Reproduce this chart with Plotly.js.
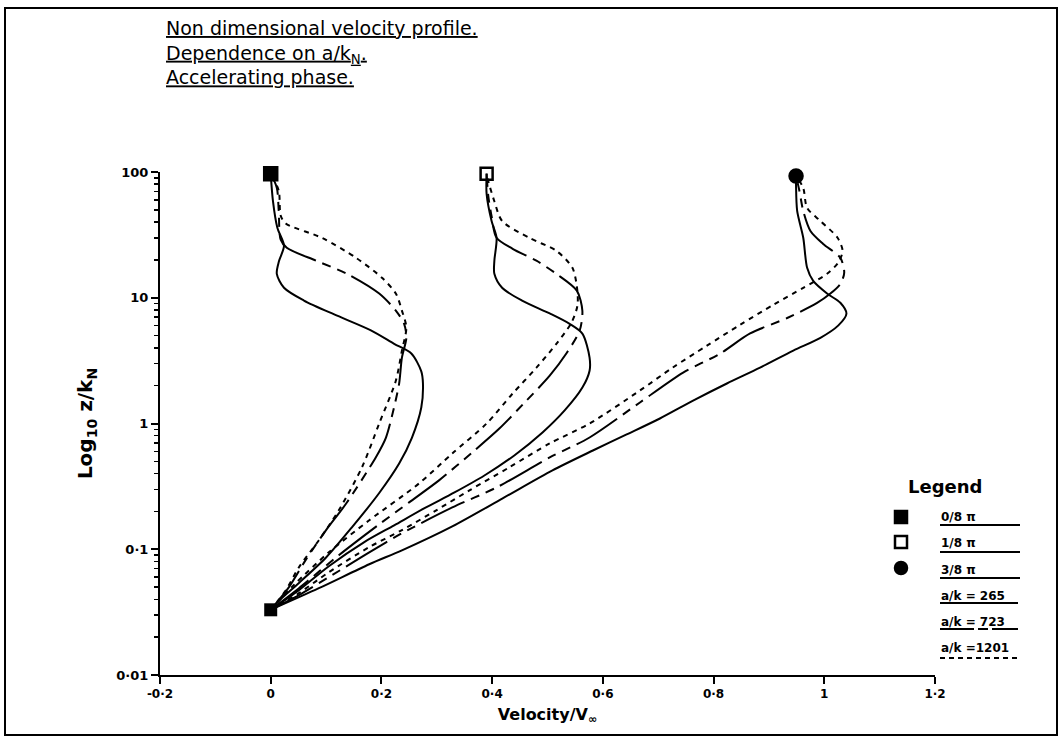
<!DOCTYPE html>
<html>
<head>
<meta charset="utf-8">
<script src="https://cdn.plot.ly/plotly-3.0.1.min.js"></script>
<style>html,body{margin:0;padding:0;background:#fff;}#chart{width:1063px;height:755px;}</style>
</head>
<body>
<div id="chart"></div>
<script>
// ---- data ----
const phases = ['0/8 π', '1/8 π', '3/8 π'];
const ratios = [265, 723, 1201];

// phase 0/8 pi
const zS0 = [0.033,0.039,0.054,0.086,0.15,0.28,0.48,0.77,1.34,2.08,2.6,3.6,4.3,5.5,7.2,9.5,12,15.5,19.6,25.9,36,59,97];
const vS0 = [0,0.015,0.051,0.100,0.147,0.196,0.232,0.255,0.272,0.275,0.272,0.254,0.223,0.181,0.120,0.060,0.024,0.011,0.015,0.024,0.012,0.004,0];
const zD0 = [0.033,0.05,0.082,0.142,0.23,0.54,0.77,1.3,2.08,3.34,4.8,6.2,7.9,10.8,15.5,19.7,25,29,49,75,97];
const vD0 = [0,0.033,0.063,0.100,0.136,0.190,0.208,0.222,0.232,0.237,0.245,0.241,0.226,0.196,0.138,0.082,0.029,0.018,0.0145,0.011,0];
const zT0 = [0.033,0.047,0.072,0.118,0.204,0.45,1.0,2.19,3.8,5.8,7.9,10.8,14.4,20.8,30,39,45,71,97];
const vT0 = [0,0.027,0.051,0.087,0.123,0.165,0.196,0.226,0.237,0.245,0.237,0.226,0.201,0.154,0.092,0.027,0.018,0.0145,0];

// phase 1/8 pi
const zS1 = [0.033,0.0473,0.0733,0.114,0.155,0.211,0.283,0.386,0.557,0.848,1.27,1.93,2.63,3.34,5.18,6.2,7.5,9.45,12,15.5,19.7,30,40.8,67,97];
const vS1 = [0,0.051,0.105,0.169,0.223,0.277,0.332,0.386,0.440,0.491,0.531,0.563,0.576,0.576,0.563,0.540,0.504,0.455,0.418,0.404,0.404,0.408,0.399,0.390,0.390];
const zD1 = [0.033,0.049,0.0896,0.158,0.236,0.353,0.589,0.912,1.52,2.4,3.6,5.47,7.88,11.4,15.5,19.7,24.5,30,44.6,64.5,97];
const vD1 = [0,0.051,0.123,0.196,0.250,0.304,0.364,0.413,0.462,0.504,0.534,0.558,0.563,0.553,0.516,0.480,0.437,0.408,0.399,0.393,0.390];
const zT1 = [0.033,0.052,0.0946,0.17,0.334,0.578,1.0,1.73,2.78,4.3,6.3,8.6,11.3,17.3,23.6,30,40.8,58.5,84.5,97];
const vT1 = [0,0.042,0.105,0.178,0.268,0.328,0.390,0.437,0.480,0.516,0.543,0.554,0.554,0.545,0.516,0.467,0.418,0.404,0.393,0.390];

// phase 3/8 pi
const zS3 = [0.033,0.049,0.076,0.098,0.152,0.254,0.424,0.61,0.818,1.096,1.52,2.08,2.78,3.8,4.8,6.0,7.47,9.12,10.8,13.6,17.3,30,49,77.5,93];
const vS3 = [0,0.087,0.178,0.237,0.328,0.419,0.509,0.582,0.643,0.703,0.763,0.824,0.884,0.944,0.993,1.025,1.040,1.029,1.005,0.980,0.969,0.962,0.951,0.949,0.949];
const zD3 = [0.033,0.0432,0.06,0.0946,0.134,0.215,0.31,0.537,0.774,1.47,2.54,3.6,5.2,6.9,9.1,10.8,12.9,15.8,20.8,26.8,34,49,71,93];
const vD3 = [0,0.051,0.105,0.178,0.237,0.328,0.408,0.504,0.576,0.667,0.745,0.812,0.866,0.933,0.987,1.011,1.029,1.036,1.029,0.998,0.975,0.962,0.955,0.949];
const zT3 = [0.033,0.0448,0.0657,0.104,0.142,0.204,0.294,0.448,0.694,1.0,1.83,2.78,4.16,6.1,8.8,12,15.5,19,23.6,30,40.8,51.8,74.6,93];
const vT3 = [0,0.051,0.105,0.178,0.237,0.299,0.359,0.431,0.504,0.576,0.667,0.726,0.788,0.848,0.908,0.962,1.005,1.025,1.033,1.024,0.993,0.969,0.962,0.949];

// markers: top of each phase group, and common starting point
const markerV = [0, 0.39, 0.949];
const markerZ = [97, 97, 93];
const startV = [0];
const startZ = [0.033];

// tick labels
const xTickVals = [-0.2, 0, 0.2, 0.4, 0.6, 0.8, 1, 1.2];
const xTickText = ['-0·2', '0', '0·2', '0·4', '0·6', '0·8', '1', '1·2'];
const yTickVals = [0.01, 0.1, 1, 10, 100];
const yTickText = ['0·01', '0·1', '1', '10', '100'];

// ---- styles ----
const dashFor = {265: 'solid', 723: '48px,7px,9px,7px,9px,7px', 1201: '5px,5px'};
const INK = '#000';
const FONT = 'DejaVu Sans, sans-serif';

const series = [
  [vS0, zS0, 0, 265], [vD0, zD0, 0, 723], [vT0, zT0, 0, 1201],
  [vS1, zS1, 1, 265], [vD1, zD1, 1, 723], [vT1, zT1, 1, 1201],
  [vS3, zS3, 2, 265], [vD3, zD3, 2, 723], [vT3, zT3, 2, 1201]
];

const traces = series.map(([v, z, p, r]) => ({
  x: v, y: z, type: 'scatter', mode: 'lines',
  name: phases[p] + ', a/k = ' + r,
  line: {color: INK, width: 2, dash: dashFor[r], shape: 'spline', smoothing: 0.8},
  hoverinfo: 'skip', showlegend: false
}));

traces.push({
  x: markerV, y: markerZ, type: 'scatter', mode: 'markers', cliponaxis: false,
  marker: {symbol: ['square', 'square-open', 'circle'], size: [13, 12, 13], opacity: 1, color: INK, line: {color: INK, width: 2.5}},
  showlegend: false, hoverinfo: 'skip'
});
traces.push({
  x: startV, y: startZ, type: 'scatter', mode: 'markers', cliponaxis: false,
  marker: {symbol: 'square', size: 13, opacity: 1, color: INK},
  showlegend: false, hoverinfo: 'skip'
});

// minor ticks on the log axis (2..9 in each decade)
const minorVals = [];
for (let e = -2; e < 2; e++) for (let m = 2; m <= 9; m++) minorVals.push(m * Math.pow(10, e));

// ---- layout helpers (positions in paper units) ----
const W = 1063, H = 755, ML = 160, MR = 128, MT = 172, MB = 80;
const PW = W - ML - MR, PH = H - MT - MB;
const px = X => (X - ML) / PW;
const py = Y => (H - MB - Y) / PH;

const annotations = [];
const shapes = [];
const titleLines = ['Non dimensional velocity profile.', 'Dependence on a/k<sub>N</sub>.', 'Accelerating phase.'];
annotations.push({
  xref: 'paper', yref: 'paper', x: px(164), y: py(52), xanchor: 'left', yanchor: 'middle', align: 'left',
  text: titleLines.map(t => '<u>' + t + '</u>').join('<br>'), showarrow: false,
  font: {family: FONT, size: 19, color: INK}
});

annotations.push({
  xref: 'paper', yref: 'paper', x: px(945), y: py(486), xanchor: 'center', yanchor: 'middle',
  text: 'Legend', showarrow: false, font: {family: FONT, size: 18, color: INK, weight: 'bold'}
});

const legendText = phases.concat(['a/k = ' + ratios[0], 'a/k = ' + ratios[1], 'a/k =' + ratios[2]]);
const legendTextY = [517, 543, 570, 596, 622, 648];
const legendLineY = [525, 552, 578, 603, 629, 658];
const legendDash = ['solid', 'solid', 'solid', 'solid', '34px,4px,10px,4px', '5px,4px'];
const legendLineEnd = [1020, 1020, 1020, 1018, 1018, 1020];
legendText.forEach((t, i) => {
  annotations.push({
    xref: 'paper', yref: 'paper', x: px(939), y: py(legendTextY[i]), xanchor: 'left', yanchor: 'middle',
    text: t, showarrow: false, font: {family: FONT, size: 12, color: INK, weight: 'bold'}
  });
  shapes.push({
    type: 'line', xref: 'paper', yref: 'paper', x0: px(940), x1: px(legendLineEnd[i]),
    y0: py(legendLineY[i]), y1: py(legendLineY[i]), line: {color: INK, width: 2, dash: legendDash[i]}
  });
});

// legend symbols
const symY = [517, 542, 568];
const symKind = ['rect', 'rect', 'circle'];
symY.forEach((Y, i) => shapes.push({
  type: symKind[i], xref: 'paper', yref: 'paper', xsizemode: 'pixel', ysizemode: 'pixel',
  xanchor: px(901), yanchor: py(Y), x0: -6, x1: 6, y0: -6, y1: 6,
  fillcolor: i === 1 ? 'rgba(0,0,0,0)' : INK, line: {color: INK, width: 2.5}
}));

// page border
shapes.push({
  type: 'rect', xref: 'paper', yref: 'paper', x0: px(5), x1: px(1057), y0: py(735), y1: py(8),
  line: {color: INK, width: 2}, layer: 'below'
});

const layout = {
  width: W, height: H,
  margin: {l: ML, r: MR, t: MT, b: MB, pad: 0},
  paper_bgcolor: '#fff', plot_bgcolor: '#fff',
  showlegend: false,
  font: {family: FONT, color: INK},
  xaxis: {
    range: [-0.2, 1.2], tickmode: 'array', tickvals: xTickVals, ticktext: xTickText,
    ticks: 'outside', ticklen: 7, tickwidth: 2, tickcolor: INK,
    showline: true, linewidth: 2, linecolor: INK, showgrid: false, zeroline: false,
    tickfont: {family: FONT, size: 12, weight: 'bold', color: INK},
    title: {text: 'Velocity/V<sub>∞</sub>', font: {family: FONT, size: 16, weight: 'bold', color: INK}, standoff: 8},
    automargin: false
  },
  yaxis: {
    type: 'log', range: [-2, 2], tickmode: 'array', tickvals: yTickVals, ticktext: yTickText,
    ticks: 'outside', ticklen: 7, tickwidth: 2, tickcolor: INK,
    minor: {tickmode: 'array', tickvals: minorVals, ticks: 'outside', ticklen: 4, tickwidth: 1.5, tickcolor: INK},
    showline: true, linewidth: 2, linecolor: INK, showgrid: false, zeroline: false,
    tickfont: {family: FONT, size: 13, weight: 'bold', color: INK},
    title: {text: 'Log<sub>10</sub> z/k<sub>N</sub>', font: {family: FONT, size: 20, weight: 'bold', color: INK}, standoff: 18},
    automargin: false
  },
  annotations: annotations,
  shapes: shapes
};

Plotly.newPlot('chart', traces, layout, {displayModeBar: false, staticPlot: true});
</script>
</body>
</html>
